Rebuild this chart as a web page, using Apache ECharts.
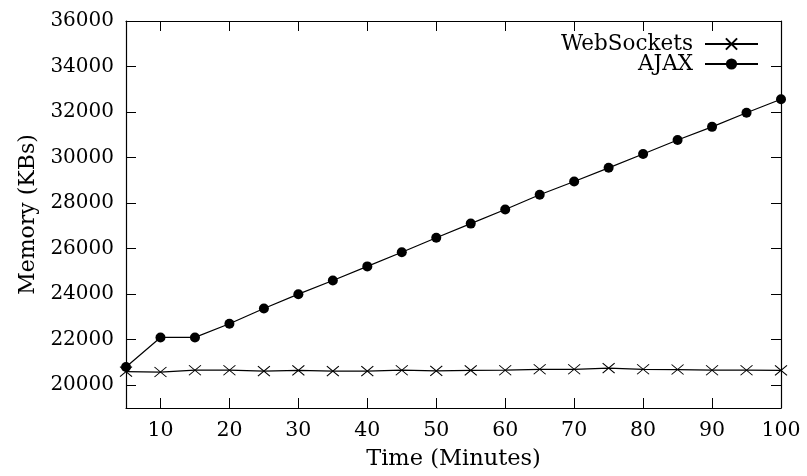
<!DOCTYPE html>
<html>
<head>
<meta charset="utf-8">
<script src="https://cdn.jsdelivr.net/npm/echarts@6/dist/echarts.min.js"></script>
<style>
  html, body { margin: 0; padding: 0; background: #fff; }
  #chart { width: 807px; height: 476px; }
</style>
</head>
<body>
<div id="chart"></div>
<script>
// ---- data ----
const minutes = [5, 10, 15, 20, 25, 30, 35, 40, 45, 50, 55, 60, 65, 70, 75, 80, 85, 90, 95, 100];
const webSockets = [20600, 20580, 20660, 20660, 20620, 20650, 20620, 20620, 20660, 20630,
                    20650, 20660, 20700, 20700, 20750, 20700, 20690, 20660, 20660, 20650];
const ajax = [20800, 22100, 22100, 22700, 23370, 24000, 24600, 25220, 25840, 26480,
              27100, 27720, 28370, 28950, 29550, 30160, 30770, 31350, 31970, 32560];
const xTicks = [10, 20, 30, 40, 50, 60, 70, 80, 90, 100];
const yTicks = [20000, 22000, 24000, 26000, 28000, 30000, 32000, 34000, 36000];
const seriesNames = ['WebSockets', 'AJAX'];
const axisNames = { x: 'Time (Minutes)', y: 'Memory (KBs)' };

const FONT = 'DejaVu Serif';
const crossPath = 'path://M0,0L10,10M10,0L0,10';

const chart = echarts.init(document.getElementById('chart'), null, { renderer: 'canvas' });

const lineStyleAxis = { show: true, lineStyle: { color: '#000', width: 1.2 } };
const tickIn = (vals) => ({ show: true, inside: true, length: 10, customValues: vals,
                            lineStyle: { color: '#000', width: 1 } });
const plain = (v) => String(v);

const option = {
  backgroundColor: '#fff',
  animation: false,
  grid: { left: 126, right: 26, top: 21, bottom: 67, containLabel: false },
  legend: {
    orient: 'vertical',
    right: 48,
    top: 33,
    padding: 0,
    align: 'right',
    itemWidth: 53,
    itemHeight: 14,
    itemGap: -2,
    textStyle: { fontFamily: FONT, fontSize: 21.5, color: '#000', padding: [0, 7, 0, 0] },
    data: seriesNames
  },
  xAxis: [
    {
      type: 'value', min: 5, max: 100, position: 'bottom',
      name: axisNames.x, nameLocation: 'middle', nameGap: 40,
      nameTextStyle: { fontFamily: FONT, fontSize: 22.5, color: '#000' },
      axisLine: lineStyleAxis,
      axisTick: tickIn(xTicks),
      axisLabel: { customValues: xTicks, margin: 12, fontFamily: FONT, fontSize: 20.5, color: '#000', formatter: plain },
      splitLine: { show: false }
    },
    {
      type: 'value', min: 5, max: 100, position: 'top',
      axisLine: lineStyleAxis,
      axisTick: tickIn(xTicks),
      axisLabel: { show: false, customValues: xTicks },
      splitLine: { show: false }
    }
  ],
  yAxis: [
    {
      type: 'value', min: 19000, max: 36000, position: 'left',
      name: axisNames.y, nameLocation: 'middle', nameGap: 84, nameRotate: 90,
      nameTextStyle: { fontFamily: FONT, fontSize: 22, color: '#000' },
      axisLine: lineStyleAxis,
      axisTick: tickIn(yTicks),
      axisLabel: { customValues: yTicks, margin: 12, fontFamily: FONT, fontSize: 20, color: '#000', formatter: plain },
      splitLine: { show: false }
    },
    {
      type: 'value', min: 19000, max: 36000, position: 'right',
      axisLine: lineStyleAxis,
      axisTick: tickIn(yTicks),
      axisLabel: { show: false, customValues: yTicks },
      splitLine: { show: false }
    }
  ],
  series: [
    {
      name: seriesNames[0], type: 'line',
      data: minutes.map((m, i) => [m, webSockets[i]]),
      symbol: crossPath, symbolSize: [12, 10],
      showAllSymbol: true,
      lineStyle: { color: '#000', width: 1.2 },
      itemStyle: { color: '#000', borderColor: '#000', borderWidth: 1 },
      z: 3
    },
    {
      name: seriesNames[1], type: 'line',
      data: minutes.map((m, i) => [m, ajax[i]]),
      symbol: 'circle', symbolSize: 10,
      showAllSymbol: true,
      lineStyle: { color: '#000', width: 1.2 },
      itemStyle: { color: '#000' },
      z: 4
    }
  ]
};
chart.setOption(option);
</script>
</body>
</html>
